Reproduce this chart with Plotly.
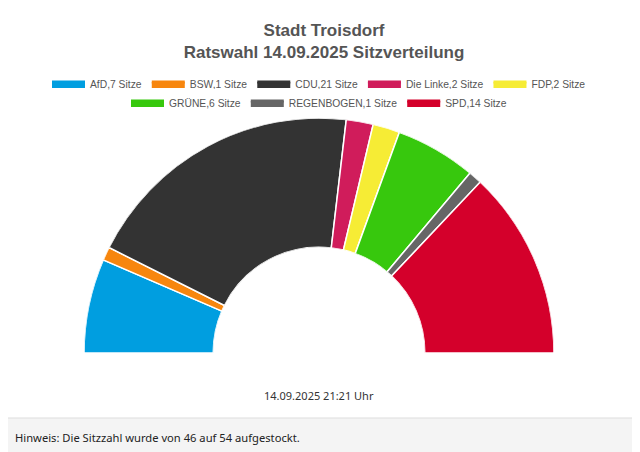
#!/usr/bin/env python3
"""Sitzverteilung Troisdorf 2025 als Halbkreis (Plotly barpolar)."""
import plotly.graph_objects as go

parties = ["AfD", "BSW", "CDU", "Die Linke", "FDP", "GRÜNE", "REGENBOGEN", "SPD"]
seats = [7, 1, 21, 2, 2, 6, 1, 14]
colors = ["#009ee0", "#f7860e", "#333333", "#d01c5b", "#f6ec35", "#37c80d", "#666666", "#d4002b"]
legend_rows = [1, 1, 1, 1, 1, 2, 2, 2]

# page body has an 8px margin, so the figure is laid out in screen px minus 8
W, H, OFF = 632, 444, 8


def px(x):
    return (x - OFF) / W


def py(y):
    return 1 - (y - OFF) / H


total = sum(seats)
widths = [s / total * 180 for s in seats]
centers = []
acc = 0.0
for w in widths:
    centers.append(acc + w / 2)
    acc += w

fig = go.Figure()
fig.add_trace(
    go.Barpolar(
        r=[1] * len(seats),
        theta=centers,
        width=widths,
        marker=dict(color=colors, line=dict(color="white", width=1.5)),
        showlegend=False,
        hoverinfo="skip",
    )
)
# legend entries as wide colour bars
for name, s, c, row in zip(parties, seats, colors, legend_rows):
    fig.add_trace(
        go.Scatterpolar(
            r=[None],
            theta=[None],
            mode="lines",
            fill="toself",
            fillcolor=c,
            line=dict(color=c, width=3),
            name=f"{name},{s} Sitze",
            legend="legend" if row == 1 else "legend2",
        )
    )

legend_font = dict(size=10.3, color="#555555", family="Liberation Sans, Arial, sans-serif")

fig.update_layout(
    width=W,
    height=H,
    margin=dict(l=0, r=0, t=0, b=0),
    paper_bgcolor="white",
    font=dict(family="Liberation Sans, Arial, sans-serif", color="#444444"),
    title=dict(
        text="Stadt Troisdorf<br>Ratswahl 14.09.2025 Sitzverteilung",
        x=0.5,
        xanchor="center",
        y=py(36),
        yanchor="top",
        font=dict(size=17, color="#555555", family="Liberation Sans, Arial, sans-serif", weight="bold"),
    ),
    polar=dict(
        domain=dict(x=[px(83), px(555)], y=[py(353), py(118)]),
        sector=[0, 180],
        hole=0.45,
        bgcolor="white",
        radialaxis=dict(visible=False, range=[0, 1]),
        angularaxis=dict(visible=False, direction="clockwise", rotation=180, thetaunit="degrees"),
    ),
    legend=dict(
        orientation="h", x=px(319), xanchor="center", y=py(84), yanchor="middle",
        font=legend_font, itemwidth=33,
    ),
    legend2=dict(
        orientation="h", x=px(319), xanchor="center", y=py(103), yanchor="middle",
        font=legend_font, itemwidth=33,
    ),
    annotations=[
        dict(
            text="14.09.2025 21:21 Uhr",
            x=px(319),
            y=py(395),
            xref="paper",
            yref="paper",
            yanchor="middle",
            showarrow=False,
            font=dict(size=11, color="#333333", family="Noto Sans, sans-serif"),
        ),
        dict(
            text="Hinweis: Die Sitzzahl wurde von 46 auf 54 aufgestockt.",
            x=px(13),
            y=py(437),
            xref="paper",
            yref="paper",
            xanchor="left",
            yanchor="middle",
            showarrow=False,
            font=dict(size=11.2, color="#222222", family="Noto Sans, sans-serif"),
        ),
    ],
    shapes=[
        dict(type="rect", xref="paper", yref="paper", x0=0, x1=1, y0=0, y1=py(418),
             fillcolor="#f4f4f4", line=dict(width=0), layer="below"),
        dict(type="line", xref="paper", yref="paper", x0=0, x1=1, y0=py(418), y1=py(418),
             line=dict(color="#dddddd", width=1)),
        dict(type="line", xref="paper", yref="paper", x0=px(638), x1=px(638), y0=0, y1=1,
             line=dict(color="#dddddd", width=1)),
    ],
)

fig.write_html("out.html")
